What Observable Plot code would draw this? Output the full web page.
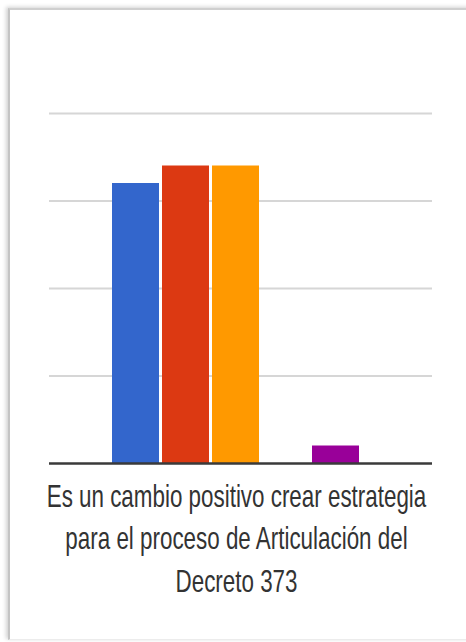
<!DOCTYPE html>
<html>
<head>
<meta charset="utf-8">
<script src="https://cdn.jsdelivr.net/npm/d3@7"></script>
<script src="https://cdn.jsdelivr.net/npm/@observablehq/plot@0.6"></script>
<style>
  html, body { margin: 0; padding: 0; background: #fff; width: 466px; height: 642px; overflow: hidden; }
  #card {
    position: absolute; left: 8px; top: 8px; width: 470px; height: 629px;
    border-left: 2px solid #c4c4c4; border-top: 2px solid #cfcfcf; border-bottom: 1px solid #ececec;
    box-shadow: -2px -1px 4px rgba(0,0,0,0.18);
    background: #fff;
  }
  #chart { position: absolute; left: 0; top: 0; }
</style>
</head>
<body>
<div id="card"></div>
<div id="chart"></div>
<script>
// Data
const categories = ["Es un cambio positivo crear estrategia para el proceso de Articulación del Decreto 373"];
const categoryLabelLines = ["Es un cambio positivo crear estrategia", "para el proceso de Articulación del", "Decreto 373"];
const series = ["Opción 1", "Opción 2", "Opción 3", "Opción 4", "Opción 5"];
const values = [16, 17, 17, 0, 1];
const colors = ["#3366cc", "#dc3912", "#ff9900", "#109618", "#990099"];
const gridTicks = [5, 10, 15, 20];

const data = series.map((s, i) => ({cat: categories[0], serie: s, value: values[i]}));

const chart = Plot.plot({
  width: 466,
  height: 642,
  marginLeft: 49,
  marginRight: 34,
  marginTop: 113,
  marginBottom: 179,
  style: {fontFamily: "'Liberation Sans', Arial, sans-serif", background: "none", color: "#333"},
  fx: {domain: categories, padding: 0, axis: null},
  x: {domain: series, paddingInner: 0.055, paddingOuter: 1.34, align: 0.466, axis: null},
  y: {domain: [0, 20], axis: null},
  color: {domain: series, range: colors},
  marks: [
    Plot.ruleY(gridTicks, {stroke: "#d6d6d6", strokeWidth: 2}),
    Plot.barY(data, {fx: "cat", x: "serie", y: "value", fill: "serie"}),
    Plot.ruleY([0], {stroke: "#3a3a3a", strokeWidth: 2.5}),
    Plot.axisFx({
      anchor: "bottom",
      tickSize: 0,
      tickPadding: 13,
      fontSize: 32,
      lineHeight: 1.33,
      dx: -4.5,
      fill: "#333",
      label: null,
      tickFormat: () => categoryLabelLines.join("\n")
    })
  ]
});

document.getElementById("chart").appendChild(chart);

// Horizontally condense the category label (narrow lettering as in the reference)
let labels = chart.querySelectorAll('g[aria-label="fx-axis tick label"] text');
if (!labels.length) labels = Array.from(chart.querySelectorAll("text")).filter(t => t.textContent.includes("Decreto"));
labels.forEach(t => {
  const tr = t.getAttribute("transform") || "";
  t.setAttribute("transform", tr + " scale(0.7,1)");
});
</script>
</body>
</html>
